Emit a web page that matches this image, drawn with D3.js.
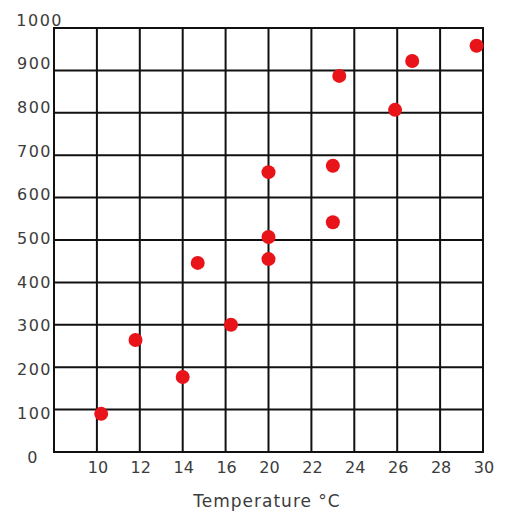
<!DOCTYPE html>
<html>
<head>
<meta charset="utf-8">
<script src="https://cdn.jsdelivr.net/npm/d3@7"></script>
<style>
  body { margin: 0; background: #fff; }
  text { font-family: "DejaVu Sans", Verdana, sans-serif; fill: #3c3c3c; }
</style>
</head>
<body>
<svg></svg>
<script>
// grid columns: first one is the unlabeled left edge, axis jumps 16 -> 20
let xTicks = [8, 10, 12, 14, 16, 20, 22, 24, 26, 28, 30]
let xLabels = ['', '10', '12', '14', '16', '20', '22', '24', '26', '28', '30']
let yTicks = [0, 100, 200, 300, 400, 500, 600, 700, 800, 900, 1000]

let temps  = [10.2, 11.8, 14.0, 14.7, 16.5, 20.0, 20.0, 20.0, 23.0, 23.0, 23.3, 25.9, 26.7, 29.7]
let values = [90, 264, 177, 446, 300, 455, 507, 660, 542, 675, 887, 807, 922, 958]

let width = 527
let height = 526
let plotLeft = 54
let plotRight = 483
let plotTop = 28
let plotBottom = 452

let svg = d3.select('svg')
            .attr('width', width)
            .attr('height', height)

let step = (plotRight - plotLeft) / (xTicks.length - 1)
let xScale = d3.scaleLinear()
               .domain(xTicks)
               .range(xTicks.map((d, i) => plotLeft + i * step))

let yScale = d3.scaleLinear()
               .domain([0, 1000])
               .range([plotBottom, plotTop])

// labels in the picture drift a little from the lines
let yLabelScale = d3.scaleLinear()
                    .domain([0, 1000])
                    .range([457, 20])

let yLabelX = (d) => {
    if (d === 1000) return 63
    if (d === 0) return 39
    return 52
}

let drawGrid = () => {
    svg.append('g')
       .selectAll('line')
       .data(xTicks)
       .enter()
       .append('line')
       .attr('x1', d => xScale(d))
       .attr('x2', d => xScale(d))
       .attr('y1', plotTop - 1)
       .attr('y2', plotBottom + 1)
       .attr('stroke', '#111')
       .attr('stroke-width', 2)

    svg.append('g')
       .selectAll('line')
       .data(yTicks)
       .enter()
       .append('line')
       .attr('x1', plotLeft - 1)
       .attr('x2', plotRight + 1)
       .attr('y1', d => yScale(d))
       .attr('y2', d => yScale(d))
       .attr('stroke', '#111')
       .attr('stroke-width', 2)
}

let drawLabels = () => {
    svg.append('g')
       .selectAll('text')
       .data(yTicks)
       .enter()
       .append('text')
       .attr('x', d => yLabelX(d))
       .attr('y', d => yLabelScale(d))
       .attr('text-anchor', 'end')
       .attr('dominant-baseline', 'central')
       .style('font-size', '16px')
       .style('letter-spacing', '1.5px')
       .text(d => d)

    svg.append('g')
       .selectAll('text')
       .data(xTicks)
       .enter()
       .append('text')
       .attr('x', d => xScale(d) + 1)
       .attr('y', 467)
       .attr('text-anchor', 'middle')
       .attr('dominant-baseline', 'central')
       .style('font-size', '16px')
       .text((d, i) => xLabels[i])

    svg.append('text')
       .attr('x', 267)
       .attr('y', 501)
       .attr('text-anchor', 'middle')
       .attr('dominant-baseline', 'central')
       .style('font-size', '17px')
       .style('letter-spacing', '1px')
       .text('Temperature °C')
}

let drawPoints = () => {
    svg.append('g')
       .selectAll('circle')
       .data(temps)
       .enter()
       .append('circle')
       .attr('cx', d => xScale(d))
       .attr('cy', (d, i) => yScale(values[i]))
       .attr('r', 7)
       .attr('fill', '#e8141a')
}

drawGrid()
drawLabels()
drawPoints()
</script>
</body>
</html>
